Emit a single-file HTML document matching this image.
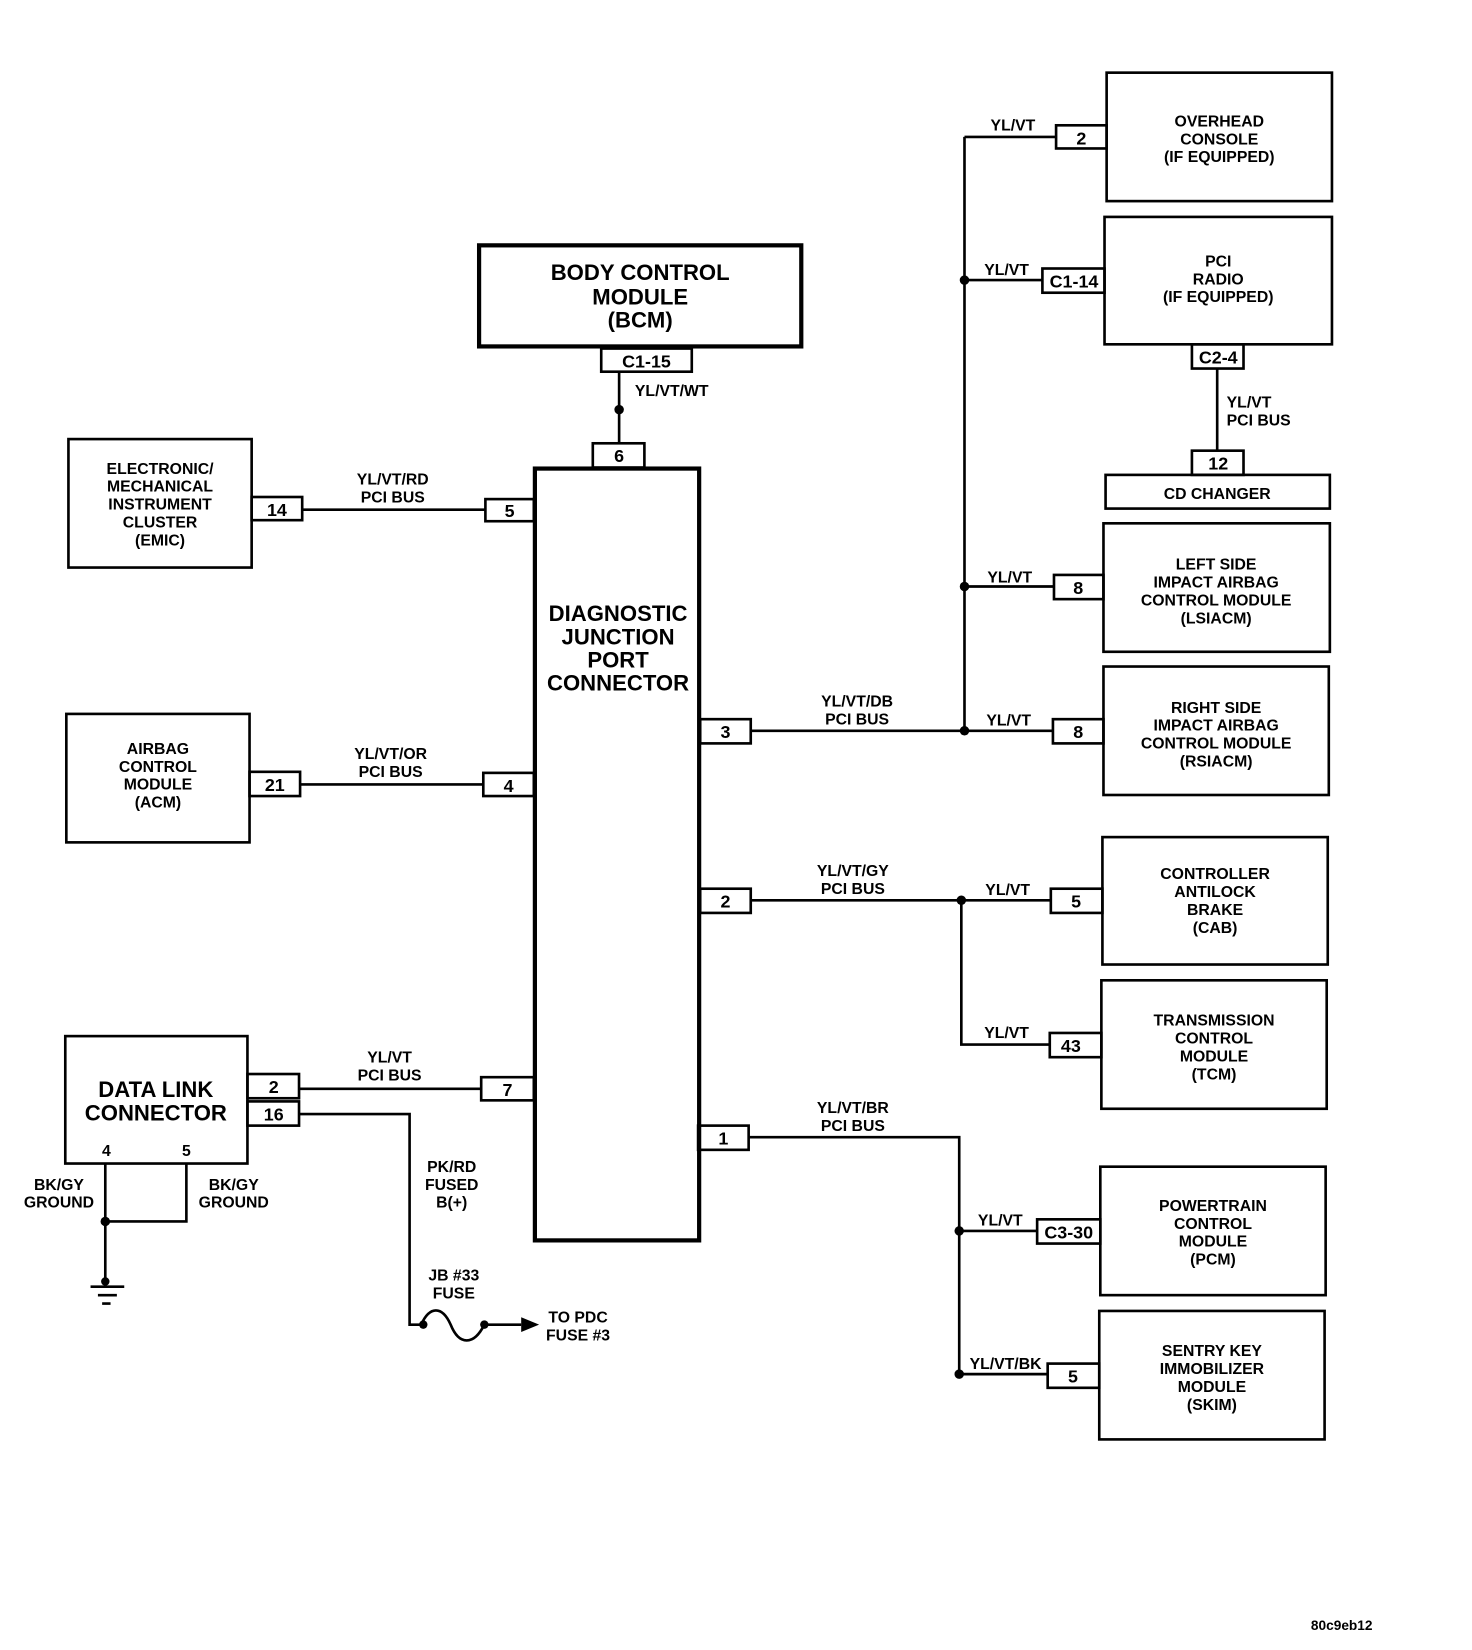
<!DOCTYPE html>
<html><head><meta charset="utf-8"><style>
html,body{margin:0;padding:0;background:#fff;}
svg{display:block;}
text{font-family:"Liberation Sans",sans-serif;font-weight:bold;fill:#000;}
.s{font-size:15px;}
.p{font-size:17px;font-weight:normal;}
.m{text-anchor:middle;}
</style></head><body>
<svg width="1472" height="1650" viewBox="0 0 1398 1567" preserveAspectRatio="none" xmlns="http://www.w3.org/2000/svg">
<g fill="none" stroke="#000" stroke-width="2.5">
<rect x="1051" y="69" width="214" height="122"/>
<rect x="1049" y="206" width="216" height="121"/>
<rect x="1050" y="451" width="213" height="32"/>
<rect x="1048" y="497" width="215" height="122"/>
<rect x="1048" y="633" width="214" height="122"/>
<rect x="1047" y="795" width="214" height="121"/>
<rect x="1046" y="931" width="214" height="122"/>
<rect x="1045" y="1108" width="214" height="122"/>
<rect x="1044" y="1245" width="214" height="122"/>
<rect x="65" y="417" width="174" height="122"/>
<rect x="63" y="678" width="174" height="122"/>
<rect x="62" y="984" width="173" height="121"/>
<rect x="455" y="233" width="306" height="96" stroke-width="4"/>
<rect x="508" y="445" width="156" height="733" stroke-width="4"/>
<rect x="571" y="331" width="86" height="22"/>
<rect x="563" y="421" width="49" height="23"/>
<rect x="461" y="474" width="46" height="21"/>
<rect x="239" y="472" width="48" height="22"/>
<rect x="237" y="733" width="48" height="23"/>
<rect x="459" y="734" width="48" height="22"/>
<rect x="457" y="1023" width="50" height="22"/>
<rect x="235" y="1020" width="49" height="23"/>
<rect x="235" y="1046" width="49" height="23"/>
<rect x="665" y="683" width="48" height="23"/>
<rect x="665" y="844" width="48" height="23"/>
<rect x="663" y="1069" width="48" height="23"/>
<rect x="1003" y="119" width="48" height="22"/>
<rect x="990" y="255" width="59" height="23"/>
<rect x="1132" y="327" width="49" height="23"/>
<rect x="1132" y="428" width="49" height="23"/>
<rect x="1001" y="546" width="47" height="23"/>
<rect x="1000" y="683" width="48" height="23"/>
<rect x="998" y="844" width="49" height="23"/>
<rect x="997" y="981" width="49" height="23"/>
<rect x="985" y="1158" width="60" height="23"/>
<rect x="995" y="1295" width="49" height="23"/>
<path d="M916 130V694 M916 130H1003 M916 266H990 M916 557H1001 M713 694H1000 M1156 350V428 M588 353V421 M287 484H461 M285 745H459 M284 1034H457 M284 1058H389V1258H400 M460 1258H495 M100 1105V1222 M177 1105V1160H100 M86 1222H118 M93 1230H111 M97 1238H105 M713 855H998 M913 855V992H997 M711 1080H911V1305H995 M911 1169H985"/>
<path d="M400 1258 C 408 1240, 420 1240, 428 1258 C 436 1278, 450 1278, 460 1258"/>
</g>
<g fill="#000">
<circle cx="916" cy="266" r="4.5"/><circle cx="916" cy="557" r="4.5"/><circle cx="916" cy="694" r="4.5"/>
<circle cx="588" cy="389" r="4.5"/><circle cx="100" cy="1160" r="4.5"/><circle cx="100" cy="1217" r="4"/>
<circle cx="913" cy="855" r="4.5"/><circle cx="911" cy="1169" r="4.5"/><circle cx="911" cy="1305" r="4.5"/>
<circle cx="402" cy="1258" r="4"/><circle cx="460" cy="1258" r="4"/>
<path d="M495 1251L512 1258L495 1265Z"/>
</g>
<g class="s m">
<text x="1158" y="120">OVERHEAD</text><text x="1158" y="137">CONSOLE</text><text x="1158" y="154">(IF EQUIPPED)</text>
<text x="1157" y="253">PCI</text><text x="1157" y="270">RADIO</text><text x="1157" y="287">(IF EQUIPPED)</text>
<text x="1156" y="474">CD CHANGER</text>
<text x="1155" y="541">LEFT SIDE</text><text x="1155" y="558">IMPACT AIRBAG</text><text x="1155" y="575">CONTROL MODULE</text><text x="1155" y="592">(LSIACM)</text>
<text x="1155" y="677">RIGHT SIDE</text><text x="1155" y="694">IMPACT AIRBAG</text><text x="1155" y="711">CONTROL MODULE</text><text x="1155" y="728">(RSIACM)</text>
<text x="1154" y="835">CONTROLLER</text><text x="1154" y="852">ANTILOCK</text><text x="1154" y="869">BRAKE</text><text x="1154" y="886">(CAB)</text>
<text x="1153" y="974">TRANSMISSION</text><text x="1153" y="991">CONTROL</text><text x="1153" y="1008">MODULE</text><text x="1153" y="1025">(TCM)</text>
<text x="1152" y="1150">POWERTRAIN</text><text x="1152" y="1167">CONTROL</text><text x="1152" y="1184">MODULE</text><text x="1152" y="1201">(PCM)</text>
<text x="1151" y="1288">SENTRY KEY</text><text x="1151" y="1305">IMMOBILIZER</text><text x="1151" y="1322">MODULE</text><text x="1151" y="1339">(SKIM)</text>
<text x="152" y="450">ELECTRONIC/</text><text x="152" y="467">MECHANICAL</text><text x="152" y="484">INSTRUMENT</text><text x="152" y="501">CLUSTER</text><text x="152" y="518">(EMIC)</text>
<text x="150" y="716">AIRBAG</text><text x="150" y="733">CONTROL</text><text x="150" y="750">MODULE</text><text x="150" y="767">(ACM)</text>
</g>
<g class="m" style="font-size:21px">
<text x="608" y="266">BODY CONTROL</text><text x="608" y="289">MODULE</text><text x="608" y="311">(BCM)</text>
<text x="587" y="590">DIAGNOSTIC</text><text x="587" y="612">JUNCTION</text><text x="587" y="634">PORT</text><text x="587" y="656">CONNECTOR</text>
<text x="148" y="1042">DATA LINK</text><text x="148" y="1064">CONNECTOR</text>
</g>
<g class="p m">
<text x="614" y="349">C1-15</text><text x="588" y="439">6</text><text x="484" y="491">5</text><text x="263" y="490">14</text>
<text x="261" y="751">21</text><text x="483" y="752">4</text><text x="482" y="1041">7</text><text x="260" y="1038">2</text><text x="260" y="1064">16</text>
<text x="689" y="701">3</text><text x="689" y="862">2</text><text x="687" y="1087">1</text>
<text x="1027" y="137">2</text><text x="1020" y="273">C1-14</text><text x="1157" y="345">C2-4</text><text x="1157" y="446">12</text>
<text x="1024" y="564">8</text><text x="1024" y="701">8</text><text x="1022" y="862">5</text><text x="1017" y="999">43</text>
<text x="1015" y="1176">C3-30</text><text x="1019" y="1313">5</text>
</g>
<g class="s m">
<text x="962" y="124">YL/VT</text><text x="956" y="261">YL/VT</text>
<text x="373" y="460">YL/VT/RD</text><text x="373" y="477">PCI BUS</text>
<text x="371" y="721">YL/VT/OR</text><text x="371" y="738">PCI BUS</text>
<text x="370" y="1009">YL/VT</text><text x="370" y="1026">PCI BUS</text>
<text x="959" y="553">YL/VT</text>
<text x="814" y="671">YL/VT/DB</text><text x="814" y="688">PCI BUS</text><text x="958" y="689">YL/VT</text>
<text x="810" y="832">YL/VT/GY</text><text x="810" y="849">PCI BUS</text><text x="957" y="850">YL/VT</text>
<text x="956" y="986">YL/VT</text>
<text x="810" y="1057">YL/VT/BR</text><text x="810" y="1074">PCI BUS</text><text x="950" y="1164">YL/VT</text>
<text x="955" y="1300">YL/VT/BK</text>
<text x="56" y="1130">BK/GY</text><text x="56" y="1147">GROUND</text>
<text x="222" y="1130">BK/GY</text><text x="222" y="1147">GROUND</text>
<text x="429" y="1113">PK/RD</text><text x="429" y="1130">FUSED</text><text x="429" y="1147">B(+)</text>
<text x="431" y="1216">JB #33</text><text x="431" y="1233">FUSE</text>
<text x="549" y="1256">TO PDC</text><text x="549" y="1273">FUSE #3</text>
<text x="101" y="1098">4</text><text x="177" y="1098">5</text>
</g>
<g class="s">
<text x="603" y="376">YL/VT/WT</text>
<text x="1165" y="387">YL/VT</text><text x="1165" y="404">PCI BUS</text>
<text x="1245" y="1548" style="font-size:13px">80c9eb12</text>
</g>
</svg>
</body></html>
